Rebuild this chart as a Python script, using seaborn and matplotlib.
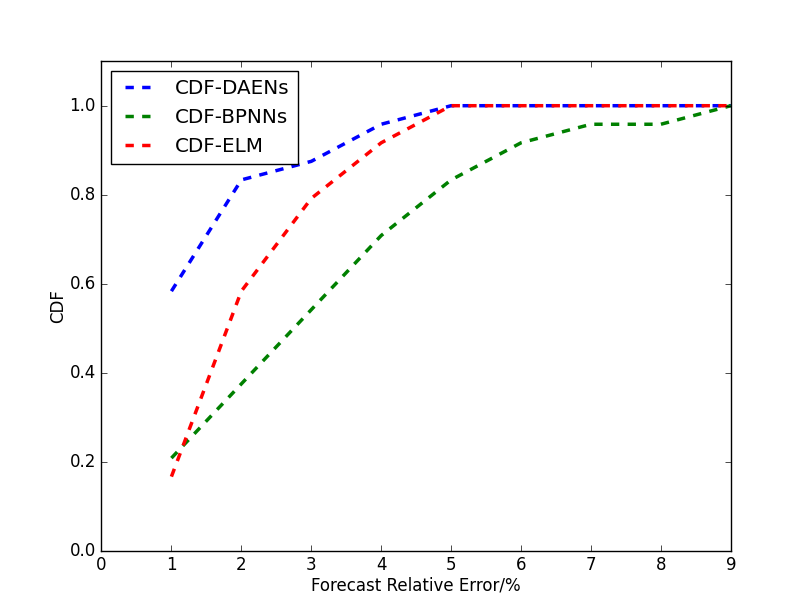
import matplotlib
matplotlib.use("Agg")
import matplotlib.pyplot as plt
import seaborn as sns
import pandas as pd

x = [1, 2, 3, 4, 5, 6, 7, 8, 9]
daens = [14/24, 20/24, 21/24, 23/24, 1, 1, 1, 1, 1]
bpnns = [5/24, 9/24, 13/24, 17/24, 20/24, 22/24, 23/24, 23/24, 1]
elm = [4/24, 14/24, 19/24, 22/24, 1, 1, 1, 1, 1]
series_names = ["CDF-DAENs", "CDF-BPNNs", "CDF-ELM"]
colors = ["#0000ff", "#008000", "#ff0000"]

plt.style.use("classic")
rows = []
for name, vals in zip(series_names, [daens, bpnns, elm]):
    for xi, v in zip(x, vals):
        rows.append({"x": xi, "y": v, "series": name})
df = pd.DataFrame(rows)

fig = plt.figure(figsize=(8.12, 6.12), dpi=100, facecolor="white")
ax = fig.add_axes([0.125, 0.1, 0.775, 0.8])
for name, c in zip(series_names, colors):
    sub = df[df.series == name]
    sns.lineplot(data=sub, x="x", y="y", ax=ax, color=c, linestyle="--",
                 linewidth=2.5, label=name, sort=False)
ax.set_xlim(0, 9)
ax.set_ylim(0, 1.1)
ax.set_xticks(range(0, 10))
ax.set_yticks([0.0, 0.2, 0.4, 0.6, 0.8, 1.0])
ax.set_xlabel("Forecast Relative Error/%", fontsize=12, labelpad=1.5)
ax.set_ylabel("CDF", fontsize=12, labelpad=2)
ax.tick_params(labelsize=12)
ax.legend(loc="upper left", fontsize=14.3, frameon=True)
fig.savefig("out.png", dpi=100, facecolor="white")
